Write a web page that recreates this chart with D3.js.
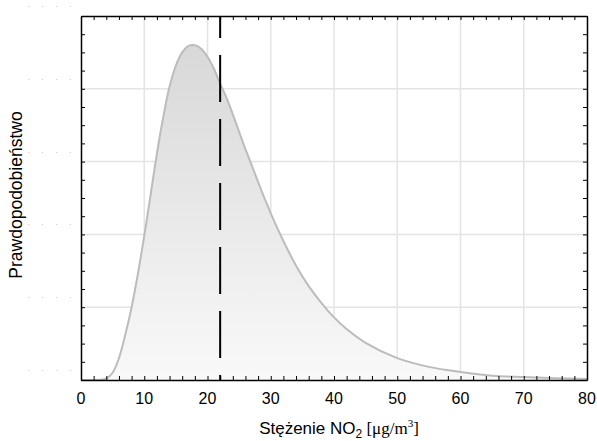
<!DOCTYPE html>
<html>
<head>
<meta charset="utf-8">
<script src="https://cdn.jsdelivr.net/npm/d3@7"></script>
<style>
  body { margin: 0; background: #fff; }
  svg { display: block; font-family: "Liberation Sans", Arial, sans-serif; }
</style>
</head>
<body>
<svg id="chart"></svg>
<script>
// NO2 concentration (ug/m3) and estimated probability density
const concentration = [0, 2, 3, 4, 5, 6, 7, 8, 9, 10, 11, 12, 13, 14, 15, 16, 17, 18, 19, 20,
    21, 22, 23, 24, 25, 26, 27, 28, 29, 30, 32, 34, 36, 38, 40, 42, 45, 50, 55, 60, 65, 70, 75, 80];
const density = [0, 0, 0.00003, 0.0002, 0.0010, 0.0030, 0.0062, 0.0100, 0.0146, 0.0198, 0.0254,
    0.0311, 0.0361, 0.0403, 0.0432, 0.0450, 0.0459, 0.0460, 0.0455, 0.0444,
    0.0428, 0.0407, 0.0388, 0.0365, 0.0341, 0.0317, 0.0295, 0.0272, 0.0250, 0.0229,
    0.0191, 0.0157, 0.0129, 0.0106, 0.0086, 0.0070, 0.0051, 0.0030, 0.0018, 0.0011,
    0.0006, 0.0004, 0.00024, 0.00015];
const meanValue = 22;   // dashed vertical marker
const xTicks = [0, 10, 20, 30, 40, 50, 60, 70, 80];
const yTicks = [0, 0.01, 0.02, 0.03, 0.04, 0.05];

const width = 597, height = 441;
const margin = {top: 16, right: 10, bottom: 61, left: 81};
const innerW = width - margin.left - margin.right;
const innerH = height - margin.top - margin.bottom;

const data = concentration.map((c, i) => ({x: c, y: density[i]}));

const svg = d3.select('#chart')
    .attr('width', width)
    .attr('height', height);

const defs = svg.append('defs');
const grad = defs.append('linearGradient')
    .attr('id', 'fillGrad')
    .attr('x1', 0).attr('y1', 0).attr('x2', 0).attr('y2', 1);
grad.append('stop').attr('offset', '0%').attr('stop-color', '#d8d8d8');
grad.append('stop').attr('offset', '100%').attr('stop-color', '#f9f9f9');

const g = svg.append('g')
    .attr('transform', `translate(${margin.left},${margin.top})`);

const x = d3.scaleLinear().domain([0, 80]).range([0, innerW]);
const y = d3.scaleLinear().domain([0, 0.05]).range([innerH, 0]);

// grid
g.append('g').attr('class', 'grid')
    .selectAll('line.v')
    .data(xTicks.slice(1, -1))
    .join('line')
    .attr('x1', d => x(d)).attr('x2', d => x(d))
    .attr('y1', 0).attr('y2', innerH)
    .attr('stroke', '#e4e4e4').attr('stroke-width', 1.5);
g.append('g').attr('class', 'grid')
    .selectAll('line.h')
    .data(yTicks.slice(1, -1))
    .join('line')
    .attr('y1', d => y(d)).attr('y2', d => y(d))
    .attr('x1', 0).attr('x2', innerW)
    .attr('stroke', '#e4e4e4').attr('stroke-width', 1.5);

// density area
const curve = d3.curveCatmullRom.alpha(0.5);
const area = d3.area()
    .x(d => x(d.x))
    .y0(innerH)
    .y1(d => Math.min(innerH, y(d.y)))
    .curve(curve);
const line = d3.line()
    .x(d => x(d.x))
    .y(d => y(d.y))
    .curve(curve);

g.append('path')
    .datum(data)
    .attr('d', area)
    .attr('fill', 'url(#fillGrad)');
g.append('path')
    .datum(data)
    .attr('d', line)
    .attr('fill', 'none')
    .attr('stroke', '#bcbcbc')
    .attr('stroke-width', 2);

// dashed marker
g.append('line')
    .attr('x1', x(meanValue)).attr('x2', x(meanValue))
    .attr('y1', 0).attr('y2', innerH)
    .attr('stroke', '#000')
    .attr('stroke-width', 2)
    .attr('stroke-dasharray', '47,17')
    .attr('stroke-dashoffset', 25);

// axes with inward ticks
const xMinor = d3.range(0, 81, 2);
const yMinor = d3.range(0, 0.0501, 0.0025);

const xAxisBottom = d3.axisBottom(x).tickValues(xMinor).tickSize(-4).tickSizeOuter(0).tickFormat('');
const xAxisTop = d3.axisTop(x).tickValues(xMinor).tickSize(-4).tickSizeOuter(0).tickFormat('');
const yAxisLeft = d3.axisLeft(y).tickValues(yMinor).tickSize(-4).tickSizeOuter(0).tickFormat('');
const yAxisRight = d3.axisRight(y).tickValues(yMinor).tickSize(-4).tickSizeOuter(0).tickFormat('');

g.append('g').attr('transform', `translate(0,${innerH})`).call(xAxisBottom);
g.append('g').call(xAxisTop);
g.append('g').call(yAxisLeft);
g.append('g').attr('transform', `translate(${innerW},0)`).call(yAxisRight);

g.selectAll('.domain').attr('stroke', '#000').attr('stroke-width', 1.5);
g.selectAll('.tick line').attr('stroke', '#000').attr('stroke-width', 1);

// x tick labels
g.append('g')
    .selectAll('text')
    .data(xTicks)
    .join('text')
    .attr('x', d => x(d))
    .attr('y', innerH + 24)
    .attr('text-anchor', 'middle')
    .attr('font-size', 16)
    .attr('fill', '#000')
    .text(d => d);

// y tick labels (rendered as faint dots)
g.append('g')
    .selectAll('text')
    .data(yTicks)
    .join('text')
    .attr('x', -29)
    .attr('y', d => y(d) - 9)
    .attr('text-anchor', 'middle')
    .attr('font-size', 7)
    .attr('fill', '#999')
    .attr('letter-spacing', 5)
    .text('. . . .');

// axis titles
const serif = '"Liberation Serif", "Times New Roman", serif';
const xTitle = svg.append('text')
    .attr('x', 339)
    .attr('y', 434)
    .attr('text-anchor', 'middle')
    .attr('font-size', 17)
    .attr('fill', '#000');
xTitle.append('tspan').text('Stężenie NO');
xTitle.append('tspan').attr('font-size', 12).attr('dy', 4).text('2');
xTitle.append('tspan').attr('dy', -4).attr('font-family', serif).text(' [μg/m');
xTitle.append('tspan').attr('font-size', 11).attr('dy', -7).attr('font-family', serif).text('3');
xTitle.append('tspan').attr('dy', 7).attr('font-family', serif).text(']');

svg.append('text')
    .attr('transform', 'translate(22,195) rotate(-90)')
    .attr('text-anchor', 'middle')
    .attr('font-size', 17.5)
    .attr('fill', '#000')
    .text('Prawdopodobieństwo');
</script>
</body>
</html>
